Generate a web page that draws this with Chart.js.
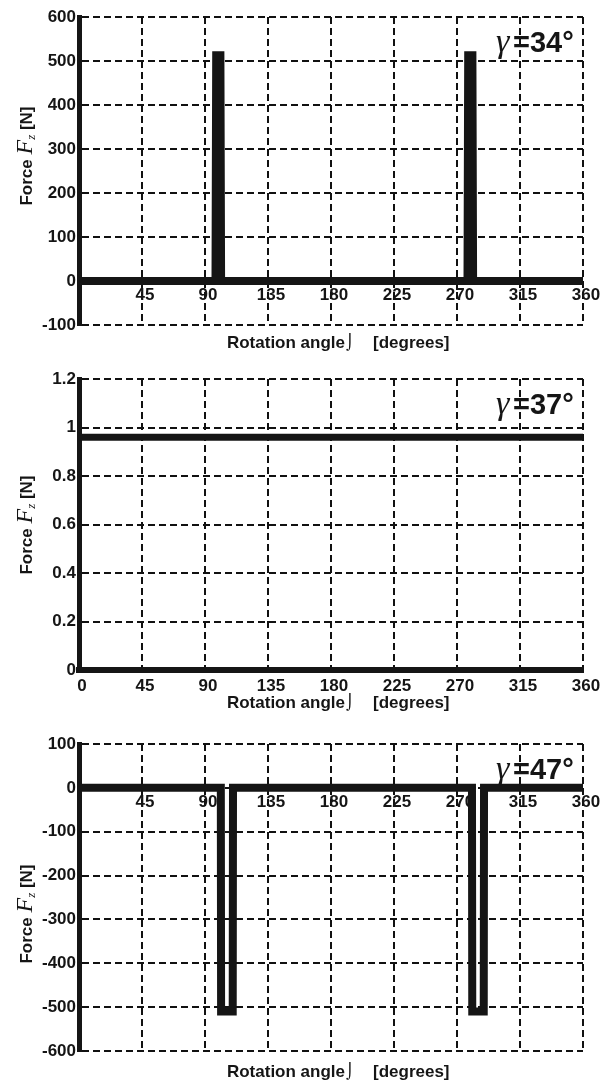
<!DOCTYPE html>
<html>
<head>
<meta charset="utf-8">
<script src="https://cdn.jsdelivr.net/npm/chart.js@4/dist/chart.umd.min.js"></script>
<style>
html,body{margin:0;padding:0;background:#fff;}
#wrap{position:relative;width:608px;height:1086px;overflow:hidden;}
canvas{position:absolute;left:0;}
</style>
</head>
<body>
<div id="wrap">
<canvas id="c1" width="608" height="358" style="top:0px"></canvas>
<canvas id="c2" width="608" height="358" style="top:358px"></canvas>
<canvas id="c3" width="608" height="370" style="top:716px"></canvas>
</div>
<script>
// x labels (angle, degrees)
var angleLabels = [0, 45, 90, 135, 180, 225, 270, 315, 360];
var angleLabelsNoZero = [45, 90, 135, 180, 225, 270, 315, 360];

// gamma = 34 deg : two narrow positive spikes
var angles34 = [0, 97.5, 98, 101, 101.5, 277.5, 278, 281, 281.5, 360];
var force34  = [0, 0, 513, 513, 0, 0, 513, 513, 0, 0];

// gamma = 37 deg : constant
var angles37 = [0, 360];
var force37  = [0.96, 0.96];

// gamma = 47 deg : two negative dips
var angles47 = [0, 101.3, 101.5, 109.8, 110, 280.7, 280.9, 289.1, 289.3, 360];
var force47  = [0, 0, -510, -510, 0, 0, -510, -510, 0, 0];

var INK = '#151515';
var SANS = '"Liberation Sans", Arial, sans-serif';
var SERIF = '"Liberation Serif", "Times New Roman", serif';

function pts(xs, ys) {
    return xs.map(function(x, i) { return {x: x, y: ys[i]}; });
}

function overlay(opt) {
    return {
        id: 'overlay',
        beforeDatasetsDraw: function(chart) {
            var ctx = chart.ctx, xs = chart.scales.x, ys = chart.scales.y;
            ctx.save();
            ctx.fillStyle = INK;
            ctx.font = 'bold 17px ' + SANS;
            ctx.textAlign = 'center';
            ctx.textBaseline = 'middle';
            var ly = opt.labelsAtZero ? ys.getPixelForValue(0) + 14 : chart.chartArea.bottom + 16;
            opt.xLabels.forEach(function(v) {
                ctx.fillText(String(v), xs.getPixelForValue(v) + 3, ly);
            });
            ctx.restore();
        },
        afterDraw: function(chart) {
            var ctx = chart.ctx, area = chart.chartArea;
            ctx.save();
            ctx.fillStyle = INK;
            // x axis title
            var ty = area.bottom + opt.titleGap;
            ctx.textBaseline = 'middle';
            ctx.font = 'bold 17px ' + SANS;
            ctx.textAlign = 'right';
            ctx.fillText('Rotation angle', 345, ty);
            ctx.textAlign = 'left';
            ctx.fillText('[degrees]', 373, ty);
            ctx.font = '15px "DejaVu Sans", sans-serif';
            ctx.textAlign = 'center';
            ctx.fillText('\u2321', 350, ty);

            // y axis title (rotated)
            ctx.save();
            ctx.translate(25, opt.yTitleY);
            ctx.rotate(-Math.PI / 2);
            ctx.textAlign = 'left';
            ctx.textBaseline = 'alphabetic';
            var f1 = 'bold 17px ' + SANS, f2 = 'italic 24px ' + SERIF, f3 = 'italic 13px ' + SERIF;
            ctx.font = f1; var w1 = ctx.measureText('Force ').width; var w4 = ctx.measureText(' [N]').width;
            ctx.font = f2; var w2 = ctx.measureText('F').width;
            ctx.font = f3; var w3 = ctx.measureText('z').width;
            var x0 = -(w1 + w2 + w3 + w4) / 2;
            ctx.font = f1; ctx.fillText('Force ', x0, 7);
            ctx.font = f2; ctx.fillText('F', x0 + w1, 7);
            ctx.font = f3; ctx.fillText('z', x0 + w1 + w2, 10);
            ctx.font = f1; ctx.fillText(' [N]', x0 + w1 + w2 + w3, 7);
            ctx.restore();

            // gamma label
            var gy = area.top + 35;
            ctx.textBaseline = 'alphabetic';
            ctx.textAlign = 'left';
            ctx.font = 'italic 34px ' + SERIF;
            ctx.fillText('\u03b3', 496, gy);
            ctx.font = 'bold 29px ' + SANS;
            ctx.fillText(opt.gamma, 513, gy);
            ctx.restore();
        }
    };
}

function makeChart(id, xs, ys, o) {
    var ctx = document.getElementById(id).getContext('2d');
    return new Chart(ctx, {
        type: 'line',
        data: {
            datasets: [{
                data: pts(xs, ys),
                borderColor: INK,
                borderWidth: o.lineWidth,
                pointRadius: 0,
                tension: 0,
                fill: false
            }]
        },
        options: {
            responsive: false,
            animation: false,
            events: [],
            layout: {padding: {top: o.padTop, right: 25, left: 0, bottom: 0}},
            plugins: {legend: {display: false}, tooltip: {enabled: false}, title: {display: false}},
            scales: {
                x: {
                    type: 'linear', min: 0, max: 360,
                    ticks: {display: false, stepSize: 45},
                    grid: {color: '#111', lineWidth: 2, drawTicks: false},
                    border: {display: o.xBorder, color: INK, width: 6, dash: [7, 4]},
                    afterFit: function(s) { s.height = o.xHeight; }
                },
                y: {
                    min: o.yMin, max: o.yMax,
                    ticks: {
                        stepSize: o.yStep, color: INK, padding: 3,
                        font: {family: SANS, size: 17, weight: 'bold'},
                        callback: function(v) { return String(Number(v.toFixed(1))); }
                    },
                    grid: {color: '#111', lineWidth: 2, drawTicks: false},
                    border: {display: true, color: INK, width: 5, dash: [7, 4]},
                    afterFit: function(s) { s.width = 79; }
                }
            }
        },
        plugins: [overlay(o)]
    });
}

makeChart('c1', angles34, force34, {
    lineWidth: 8, padTop: 17, xHeight: 33, xBorder: false,
    yMin: -100, yMax: 600, yStep: 100,
    xLabels: angleLabelsNoZero, labelsAtZero: true,
    titleGap: 18, yTitleY: 156, gamma: '=34\u00b0'
});

makeChart('c2', angles37, force37, {
    lineWidth: 7, padTop: 21, xHeight: 46, xBorder: true,
    yMin: 0, yMax: 1.2, yStep: 0.2,
    xLabels: angleLabels, labelsAtZero: false,
    titleGap: 33, yTitleY: 525 - 358, gamma: '=37\u00b0'
});

makeChart('c3', angles47, force47, {
    lineWidth: 8, padTop: 28, xHeight: 35, xBorder: false,
    yMin: -600, yMax: 100, yStep: 100,
    xLabels: angleLabelsNoZero, labelsAtZero: true,
    titleGap: 21, yTitleY: 914 - 716, gamma: '=47\u00b0'
});
</script>
</body>
</html>
